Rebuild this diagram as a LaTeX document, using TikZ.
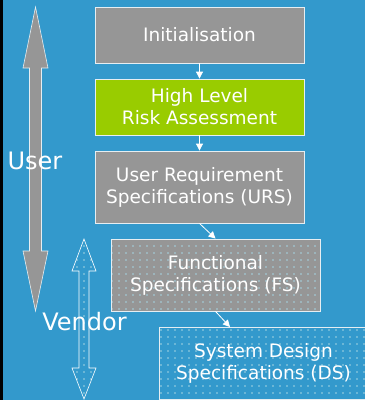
\documentclass[tikz,border=0pt]{standalone}
\usepackage{fontspec}
\setmainfont{DejaVu Sans}
\usetikzlibrary{arrows.meta,patterns.meta}

\definecolor{bgblue}{HTML}{3399CC}
\definecolor{boxgrey}{HTML}{969696}
\definecolor{boxgreen}{HTML}{99CC00}
\definecolor{dotcol}{HTML}{A6D4E2}
\definecolor{edgecol}{HTML}{E6EEF2}

\tikzset{
  stage/.style={draw=edgecol, line width=0.8pt, minimum width=209pt, align=center,
    text=white, font=\fontsize{18.5}{22}\selectfont, inner sep=0pt},
  dotted stage/.style={stage, pattern={Dots[distance=7pt,radius=0.8pt]}, pattern color=dotcol},
  flow/.style={draw=white, line width=0.8pt, -{Triangle[width=7pt,length=7pt]}},
  role/.style={text=white, font=\fontsize{24}{26}\selectfont, inner sep=0pt}
}

\begin{document}
\begin{tikzpicture}[x=1pt,y=-1pt]
% page and background
	\useasboundingbox (0,0) rectangle (365,400);
	\fill[bgblue] (0,0) rectangle (365,400);
	\fill[black] (0,0) rectangle (2.5,400);
% user arrow
	\draw[draw=edgecol, fill=boxgrey, line width=0.6pt]
		(35.5,7) -- (48,68) -- (41.5,68) -- (41.5,251) -- (48,251) -- (35.5,311)
		-- (23,251) -- (29.5,251) -- (29.5,68) -- (23,68) -- cycle;
% vendor arrow
	\draw[draw=white, line width=0.6pt, pattern={Dots[distance=7pt,radius=0.8pt]}, pattern color=dotcol]
		(84,239) -- (96,271) -- (89,271) -- (89,368) -- (96,368) -- (84,399)
		-- (72,368) -- (79,368) -- (79,271) -- (72,271) -- cycle;
% stages
	\node[stage, fill=boxgrey, minimum height=56pt] (init) at (199.5,35) {Initialisation};
	\node[stage, fill=boxgreen, minimum height=56pt] (hlra) at (199.5,107) {High Level\\Risk Assessment};
	\node[stage, fill=boxgrey, minimum height=72pt] (urs) at (199.5,187) {User Requirement\\Specifications (URS)};
	\node[dotted stage, preaction={fill=boxgrey}, minimum height=72pt] (fs) at (215.5,275) {Functional\\Specifications (FS)};
	\node[dotted stage, minimum height=72pt] (ds) at (263.5,363) {System Design\\Specifications (DS)};
	\coordinate (dsin) at (230,327);
% connectors
	\draw[flow] (init) -- (hlra);
	\draw[flow] (hlra) -- (urs);
	\draw[flow] (urs.south) -- (fs.north);
	\draw[flow] (fs.south) -- (dsin);
% roles
	\node[role] (user) at (35,161) {User};
	\node[role] (vendor) at (84.5,322) {Vendor};
\end{tikzpicture}
\end{document}
